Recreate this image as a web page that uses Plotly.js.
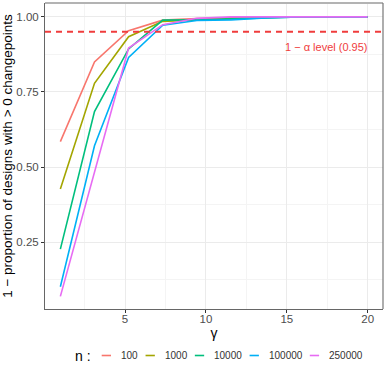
<!DOCTYPE html>
<html>
<head>
<meta charset="utf-8">
<script src="https://cdn.plot.ly/plotly-3.0.1.min.js"></script>
<style>
  html, body { margin: 0; padding: 0; background: #fff; }
  #chart { width: 387px; height: 370px; }
</style>
</head>
<body>
<div id="chart"></div>
<script>
// gamma grid (x-axis)
const gamma = [1, 3.11, 5.22, 7.33, 9.44, 11.56, 13.67, 15.78, 17.89, 20];

// sample sizes (legend)
const sizes = ['100', '1000', '10000', '100000', '250000'];
const colors = ['#F8766D', '#A3A500', '#00BF7D', '#00B0F6', '#E76BF3'];

// 1 - proportion of designs with > 0 changepoints
const prop100 = [0.585, 0.850, 0.954, 0.989, 0.994, 0.998, 1.000, 1.000, 1.000, 1.000];
const prop1000 = [0.427, 0.779, 0.934, 0.985, 0.990, 0.995, 0.998, 1.000, 1.000, 1.000];
const prop10000 = [0.227, 0.685, 0.893, 0.989, 0.990, 0.993, 0.998, 1.000, 1.000, 1.000];
const prop100000 = [0.102, 0.571, 0.865, 0.972, 0.988, 0.990, 0.996, 1.000, 1.000, 1.000];
const prop250000 = [0.070, 0.485, 0.896, 0.974, 0.995, 1.000, 1.000, 1.000, 1.000, 1.000];

const alphaLevel = 0.95;

const series = [prop100, prop1000, prop10000, prop100000, prop250000];

const font = 'Liberation Sans, Arial, sans-serif';
const W = 387, H = 370;
const M = { l: 45, r: 4, t: 3, b: 61 };

const data = series.map((ys, i) => ({
  x: gamma,
  y: ys,
  name: sizes[i],
  type: 'scatter',
  mode: 'lines',
  line: { color: colors[i], width: 1.6 },
  showlegend: false
}));

// ggplot-style bottom legend: short keys, built by hand
const px2x = px => (px - M.l) / (W - M.l - M.r);
const px2y = py => (H - M.b - py) / (H - M.t - M.b);
const legY = px2y(355.5);
const legShapes = [];
const legNotes = [
  { x: px2x(73), y: px2y(356.5), xref: 'paper', yref: 'paper', xanchor: 'left', yanchor: 'middle',
    text: 'n :', showarrow: false, font: { family: font, size: 14, color: '#000' } }
];
let cx = 101.7;
sizes.forEach((s, i) => {
  legShapes.push({ type: 'line', xref: 'paper', yref: 'paper',
    x0: px2x(cx), x1: px2x(cx + 9.3), y0: legY, y1: legY,
    line: { color: colors[i], width: 1.6 } });
  const tx = cx + 18;
  legNotes.push({ x: px2x(tx), y: legY, xref: 'paper', yref: 'paper', xanchor: 'left', yanchor: 'middle',
    text: s, showarrow: false, xshift: -1, font: { family: font, size: 10, color: '#333' } });
  cx = tx + s.length * 5.45 + 9.5;
});

const layout = {
  width: W,
  height: H,
  paper_bgcolor: '#fff',
  plot_bgcolor: '#fff',
  margin: M,
  font: { family: font, color: '#4D4D4D' },
  showlegend: false,
  xaxis: {
    range: [0.05, 20.95],
    tickvals: [5, 10, 15, 20],
    ticks: 'outside',
    ticklen: 3,
    tickcolor: '#333',
    ticklabelstandoff: -4,
    tickfont: { family: font, size: 11.5, color: '#4D4D4D' },
    showgrid: true,
    gridcolor: '#EBEBEB',
    gridwidth: 1,
    minor: { tickvals: [2.5, 7.5, 12.5, 17.5], showgrid: true, gridcolor: '#F4F4F4', gridwidth: 0.6 },
    zeroline: false,
    showline: true,
    linecolor: '#666',
    linewidth: 1,
    title: { text: 'γ', font: { family: font, size: 14, color: '#000' }, standoff: 0 }
  },
  yaxis: {
    range: [0.028, 1.046],
    tickvals: [0.25, 0.5, 0.75, 1.0],
    ticktext: ['0.25', '0.50', '0.75', '1.00'],
    ticks: 'outside',
    ticklen: 3,
    tickcolor: '#333',
    tickfont: { family: font, size: 11.5, color: '#4D4D4D' },
    showgrid: true,
    gridcolor: '#EBEBEB',
    gridwidth: 1,
    minor: { tickvals: [0.125, 0.375, 0.625, 0.875], showgrid: true, gridcolor: '#F4F4F4', gridwidth: 0.6 },
    zeroline: false,
    showline: true,
    linecolor: '#666',
    linewidth: 1,
    title: {
      text: '1 − proportion of designs with > 0 changepoints',
      font: { family: font, size: 13.5, color: '#000' },
      standoff: 2
    }
  },
  shapes: [
    { type: 'line', xref: 'paper', x0: 0, x1: 1, yref: 'y', y0: alphaLevel, y1: alphaLevel,
      line: { color: '#F03C3C', width: 2, dash: '6px,5px' } },
    { type: 'line', xref: 'paper', x0: 0, x1: 1, yref: 'paper', y0: 1, y1: 1,
      line: { color: '#B3B3B3', width: 2 } },
    { type: 'line', xref: 'paper', x0: 1, x1: 1, yref: 'paper', y0: 0, y1: 1,
      line: { color: '#777', width: 1.2 } }
  ].concat(legShapes),
  annotations: [
    { x: 20.1, y: 0.901, xref: 'x', yref: 'y', xanchor: 'right', yanchor: 'middle',
      text: '1 − α level (0.95)', showarrow: false,
      font: { family: font, size: 11, color: '#F03C3C' } }
  ].concat(legNotes)
};

Plotly.newPlot('chart', data, layout, { displayModeBar: false });
</script>
</body>
</html>
